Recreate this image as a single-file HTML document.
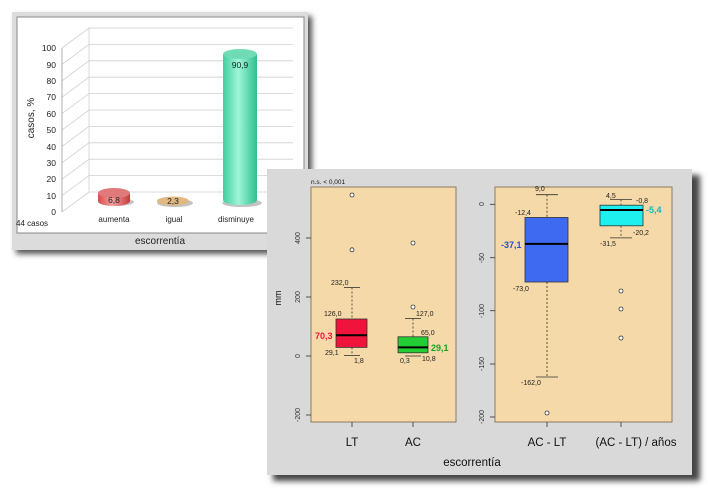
<!DOCTYPE html>
<html><head><meta charset="utf-8"><style>
html,body{margin:0;padding:0;background:#fff;width:708px;height:492px;overflow:hidden}
svg text{font-family:"Liberation Sans",sans-serif}
</style></head><body>
<svg width="708" height="492" viewBox="0 0 708 492" xmlns="http://www.w3.org/2000/svg">
<defs>
<filter id="sh" x="-10%" y="-10%" width="130%" height="130%"><feGaussianBlur stdDeviation="3"/></filter>
<linearGradient id="gc" x1="0" x2="1"><stop offset="0" stop-color="#3fcf9f"/><stop offset="0.45" stop-color="#9ff5d8"/><stop offset="1" stop-color="#2fbf8f"/></linearGradient>
<linearGradient id="rc" x1="0" x2="1"><stop offset="0" stop-color="#d94a4a"/><stop offset="0.45" stop-color="#f4a0a0"/><stop offset="1" stop-color="#c83a3a"/></linearGradient>
</defs>
<rect x="16" y="16" width="296" height="238" fill="#555" filter="url(#sh)"/>
<rect x="12" y="12" width="296" height="238" fill="#dcdcdc"/>
<rect x="17" y="17" width="287" height="216" fill="#fff" stroke="#888" stroke-width="1"/>
<line x1="89" y1="28" x2="89" y2="192" stroke="#d0d0d0" stroke-width="0.8"/>
<g stroke="#d0d0d0" stroke-width="0.8" fill="none">
<path d="M62 212 L89 192 L293 192"/><path d="M62 195.6 L89 175.6 L293 175.6"/><path d="M62 179.2 L89 159.2 L293 159.2"/><path d="M62 162.8 L89 142.8 L293 142.8"/><path d="M62 146.4 L89 126.4 L293 126.4"/><path d="M62 130 L89 110 L293 110"/><path d="M62 113.6 L89 93.6 L293 93.6"/><path d="M62 97.2 L89 77.2 L293 77.2"/><path d="M62 80.8 L89 60.8 L293 60.8"/><path d="M62 64.4 L89 44.4 L293 44.4"/><path d="M62 48 L89 28 L293 28"/>
</g>
<line x1="62" y1="48" x2="62" y2="212" stroke="#999" stroke-width="0.8"/>
<g font-size="8.5" text-anchor="end" fill="#222">
<text x="56" y="215">0</text><text x="56" y="199">10</text><text x="56" y="182">20</text><text x="56" y="166">30</text><text x="56" y="150">40</text><text x="56" y="133">50</text><text x="56" y="117">60</text><text x="56" y="100">70</text><text x="56" y="84">80</text><text x="56" y="68">90</text><text x="56" y="51">100</text>
</g>
<text transform="translate(34,118) rotate(-90)" font-size="10" text-anchor="middle" fill="#222">casos, %</text>
<ellipse cx="116" cy="202" rx="18" ry="4" fill="#888" opacity="0.5"/>
<path d="M98 193 L98 201 A16 5 0 0 0 130 201 L130 193 Z" fill="url(#rc)"/>
<ellipse cx="114" cy="193" rx="16" ry="5" fill="#e07a7a"/>
<text x="114" y="203" font-size="8.5" text-anchor="middle" fill="#222">6,8</text>
<ellipse cx="175" cy="203" rx="18" ry="4" fill="#888" opacity="0.5"/>
<ellipse cx="173" cy="201" rx="16" ry="4.5" fill="#e2b880"/>
<text x="173" y="204" font-size="8.5" text-anchor="middle" fill="#222">2,3</text>
<ellipse cx="242" cy="203" rx="20" ry="4" fill="#888" opacity="0.5"/>
<path d="M223 54 L223 200 A17 5 0 0 0 257 200 L257 54 Z" fill="url(#gc)"/>
<ellipse cx="240" cy="54" rx="17" ry="5" fill="#6fdcb6"/>
<text x="240" y="68" font-size="8.5" text-anchor="middle" fill="#222">90,9</text>
<g font-size="8" text-anchor="middle" fill="#222">
<text x="114" y="222">aumenta</text><text x="174" y="222">igual</text><text x="236" y="222">disminuye</text>
</g>
<text x="16" y="226" font-size="8" fill="#222">44 casos</text>
<text x="160" y="244" font-size="10" text-anchor="middle" fill="#222">escorrentía</text>

<rect x="273" y="175" width="427" height="306" fill="#444" filter="url(#sh)"/>
<rect x="267" y="169" width="425" height="306" fill="#d9d9d9"/>
<text x="311" y="184" font-size="6.5" fill="#111">n.s. &lt; 0,001</text>
<rect x="311" y="187" width="145" height="235" fill="#f5d9a8" stroke="#8a7a60" stroke-width="1"/>
<rect x="495" y="187" width="177" height="235" fill="#f5d9a8" stroke="#8a7a60" stroke-width="1"/>
<g stroke="#333" stroke-width="0.8" fill="none">
<line x1="306" y1="238" x2="311" y2="238"/><line x1="306" y1="297" x2="311" y2="297"/><line x1="306" y1="356" x2="311" y2="356"/><line x1="306" y1="415" x2="311" y2="415"/>
<line x1="490" y1="204.3" x2="495" y2="204.3"/><line x1="490" y1="257.7" x2="495" y2="257.7"/><line x1="490" y1="310.7" x2="495" y2="310.7"/><line x1="490" y1="364" x2="495" y2="364"/><line x1="490" y1="417" x2="495" y2="417"/>
<line x1="352" y1="422" x2="352" y2="427"/><line x1="413" y1="422" x2="413" y2="427"/><line x1="547" y1="422" x2="547" y2="427"/><line x1="621" y1="422" x2="621" y2="427"/>
</g>
<g font-size="7" fill="#333" text-anchor="middle">
<text transform="translate(300,238) rotate(-90)">400</text><text transform="translate(300,297) rotate(-90)">200</text><text transform="translate(300,356) rotate(-90)">0</text><text transform="translate(300,415) rotate(-90)">-200</text>
<text transform="translate(484,204) rotate(-90)">0</text><text transform="translate(484,258) rotate(-90)">-50</text><text transform="translate(484,311) rotate(-90)">-100</text><text transform="translate(484,364) rotate(-90)">-150</text><text transform="translate(484,417) rotate(-90)">-200</text>
</g>
<text transform="translate(281,298) rotate(-90)" font-size="9" text-anchor="middle" fill="#111">mm</text>
<g stroke="#333" stroke-width="0.8" fill="none">
<line x1="352" y1="287.5" x2="352" y2="319" stroke-dasharray="2,2"/><line x1="352" y1="347.4" x2="352" y2="355.5" stroke-dasharray="2,2"/>
<line x1="344" y1="287.5" x2="360" y2="287.5"/><line x1="344" y1="355.5" x2="360" y2="355.5"/>
<line x1="413" y1="318.5" x2="413" y2="336.8" stroke-dasharray="2,2"/>
<line x1="405" y1="318.5" x2="421" y2="318.5"/><line x1="405" y1="356" x2="421" y2="356"/>
<line x1="547" y1="194.7" x2="547" y2="217.5" stroke-dasharray="2,2"/><line x1="547" y1="282" x2="547" y2="377" stroke-dasharray="2,2"/>
<line x1="536" y1="194.7" x2="558" y2="194.7"/><line x1="536" y1="377" x2="558" y2="377"/>
<line x1="621" y1="199.5" x2="621" y2="205.2" stroke-dasharray="2,2"/><line x1="621" y1="225.8" x2="621" y2="237.9" stroke-dasharray="2,2"/>
<line x1="610" y1="199.5" x2="632" y2="199.5"/><line x1="610" y1="237.9" x2="632" y2="237.9"/>
</g>
<rect x="336" y="319" width="31" height="28.4" fill="#f0143c" stroke="#333" stroke-width="0.8"/>
<line x1="336" y1="335.3" x2="367" y2="335.3" stroke="#000" stroke-width="2"/>
<rect x="398" y="336.8" width="30" height="16" fill="#22cc33" stroke="#333" stroke-width="0.8"/>
<line x1="398" y1="347.4" x2="428" y2="347.4" stroke="#000" stroke-width="2"/>
<rect x="525" y="217.5" width="43" height="64.5" fill="#3d6af0" stroke="#333" stroke-width="0.8"/>
<line x1="525" y1="243.9" x2="568" y2="243.9" stroke="#000" stroke-width="2"/>
<rect x="600" y="205.2" width="43" height="20.6" fill="#1ef0f0" stroke="#333" stroke-width="0.8"/>
<line x1="600" y1="210" x2="643" y2="210" stroke="#000" stroke-width="2"/>
<g fill="#fff" stroke="#333" stroke-width="0.8">
<circle cx="352" cy="195" r="2"/><circle cx="352" cy="249.8" r="2"/><circle cx="413" cy="243" r="2"/><circle cx="413" cy="307" r="2"/>
<circle cx="547" cy="413" r="2"/><circle cx="621" cy="291" r="2"/><circle cx="621" cy="309" r="2"/><circle cx="621" cy="338" r="2"/>
</g>
<g font-size="7" fill="#222">
<text x="331" y="285">232,0</text><text x="324" y="316">126,0</text><text x="325" y="355">29,1</text><text x="354" y="363">1,8</text>
<text x="416" y="316">127,0</text><text x="421" y="335">65,0</text><text x="400" y="363">0,3</text><text x="422" y="361">10,8</text>
<text x="535" y="191">9,0</text><text x="515" y="215">-12,4</text><text x="513" y="291">-73,0</text><text x="521" y="385">-162,0</text>
<text x="606" y="198">4,5</text><text x="636" y="203">-0,8</text><text x="633" y="235">-20,2</text><text x="600" y="246">-31,5</text>
</g>
<g font-size="9" font-weight="bold">
<text x="315" y="339" fill="#f0143c">70,3</text><text x="431" y="351" fill="#18a020">29,1</text>
<text x="501" y="248" fill="#2a50d0">-37,1</text><text x="646" y="213" fill="#10b8c8">-5,4</text>
</g>
<g font-size="11.5" fill="#111" text-anchor="middle">
<text x="352" y="446">LT</text><text x="413" y="446">AC</text><text x="547" y="446">AC - LT</text><text x="636" y="446">(AC - LT) / años</text>
<text x="472" y="466">escorrentía</text>
</g>
</svg>
</body></html>
